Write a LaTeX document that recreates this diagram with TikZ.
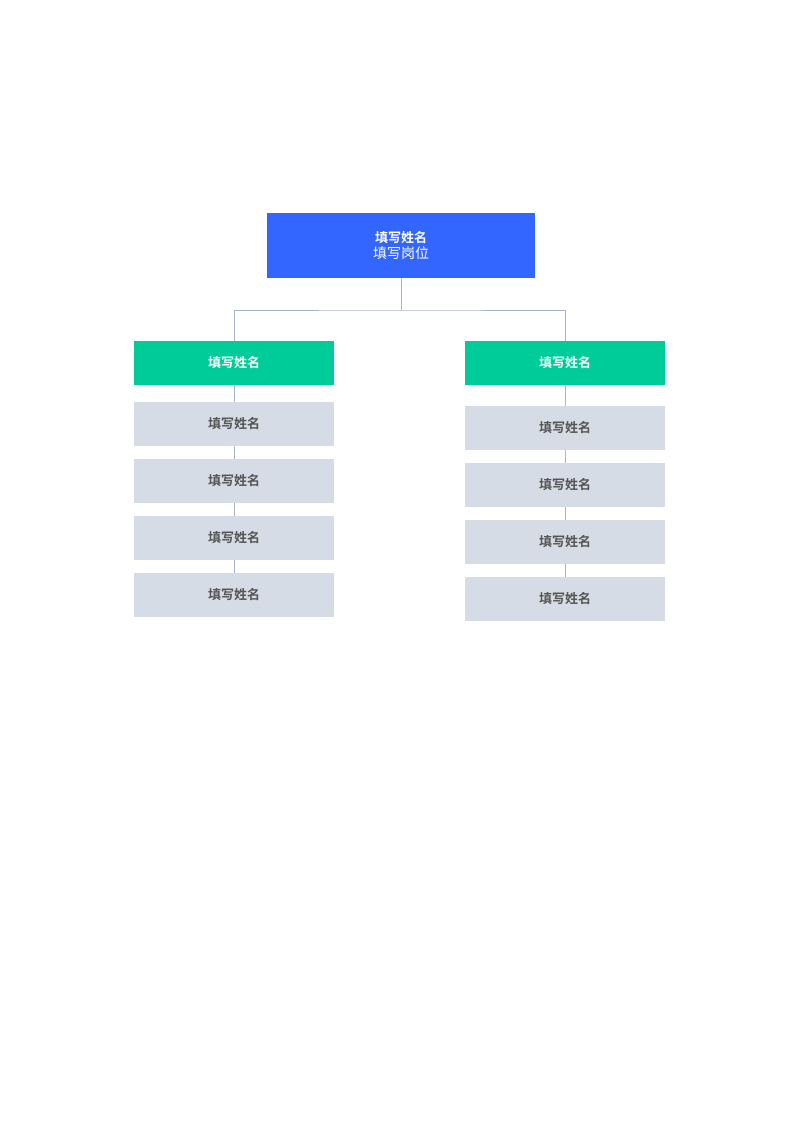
\documentclass[tikz,border=0pt]{standalone}
\usepackage{fontspec}
\newfontfamily\cjk{Noto Sans CJK SC}
\newfontfamily\cjkb{Noto Sans CJK SC Bold}
\definecolor{topblue}{HTML}{3366FF}
\definecolor{grn}{HTML}{00CC99}
\definecolor{gry}{HTML}{D6DCE5}
\definecolor{txt}{HTML}{555555}
\definecolor{ln}{HTML}{A9B4C4}
\begin{document}
\begin{tikzpicture}[x=1pt,y=-1pt,
  green/.style={fill=grn,minimum width=200pt,minimum height=44pt,inner sep=0pt,text=white,font=\cjkb\fontsize{13}{15}\selectfont},
  gbox/.style={fill=gry,minimum width=200pt,minimum height=44pt,inner sep=0pt,text=txt,font=\cjkb\fontsize{13}{15}\selectfont},
  conn/.style={draw=ln,line width=0.8pt}]
\useasboundingbox (0,0) rectangle (800,1131);
\fill[white] (0,0) rectangle (800,1131);
\node[fill=topblue,minimum width=268pt,minimum height=65pt,inner sep=0pt,align=center,text=white] (top) at (401,245.5)
 {{\cjkb\fontsize{13}{15}\selectfont 填写姓名}\\[2pt]{\cjk\fontsize{14}{16}\selectfont 填写岗位}};
\node[green] (L0) at (234,363) {填写姓名};
\node[green] (R0) at (565,363) {填写姓名};
\node[gbox] (L1) at (234,424) {填写姓名};
\node[gbox] (L2) at (234,481) {填写姓名};
\node[gbox] (L3) at (234,538) {填写姓名};
\node[gbox] (L4) at (234,595) {填写姓名};
\node[gbox] (R1) at (565,428) {填写姓名};
\node[gbox] (R2) at (565,485) {填写姓名};
\node[gbox] (R3) at (565,542) {填写姓名};
\node[gbox] (R4) at (565,599) {填写姓名};
\coordinate (m) at (401,310);
\draw[conn] (top.south) -- (m);
\draw[conn] (L0.north) |- (m) -| (R0.north);
\foreach \s in {L,R}{
 \draw[conn] (\s0) -- (\s1);
 \draw[conn] (\s1) -- (\s2);
 \draw[conn] (\s2) -- (\s3);
 \draw[conn] (\s3) -- (\s4);
}
\end{tikzpicture}
\end{document}
